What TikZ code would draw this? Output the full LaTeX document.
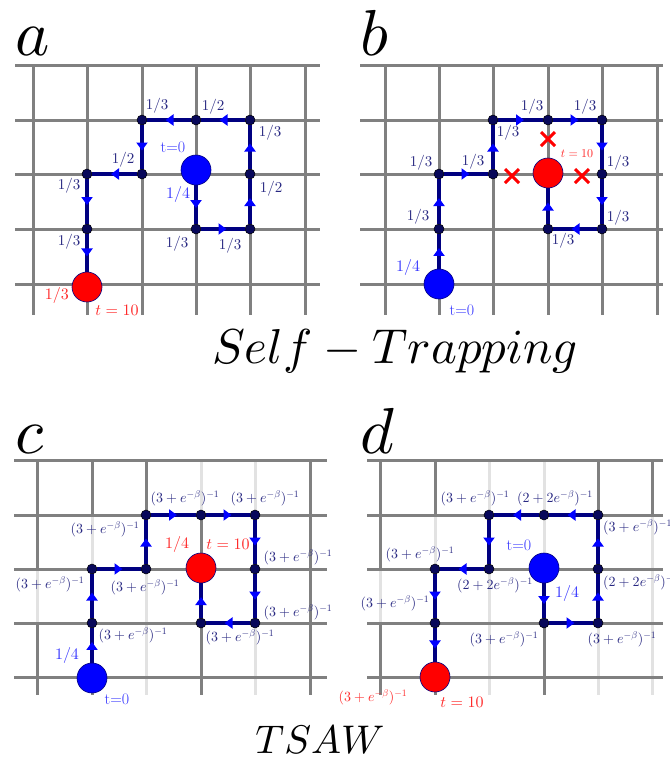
\documentclass[tikz,border=0pt]{standalone}
\usetikzlibrary{arrows.meta,decorations.markings}
\DeclareFontShape{OML}{cmm}{m}{it}{<->cmmi10}{}
\DeclareFontShape{OT1}{cmr}{m}{n}{<->cmr10}{}
\DeclareFontShape{OMS}{cmsy}{m}{n}{<->cmsy10}{}
\definecolor{gridgray}{RGB}{128,128,128}
\definecolor{gridlight}{RGB}{226,226,226}
\definecolor{pathnavy}{RGB}{0,0,128}
\definecolor{dotnavy}{RGB}{8,8,90}
\definecolor{arrowblue}{RGB}{0,0,255}
\definecolor{labnavy}{RGB}{40,40,130}
\definecolor{lblue}{RGB}{55,55,255}
\definecolor{redc}{RGB}{255,0,0}
\definecolor{redlab}{RGB}{255,40,40}
\tikzset{
  gridd/.style={draw=gridgray, line width=3pt},
  gridl/.style={draw=gridlight, line width=3pt},
  dot/.style={circle, fill=dotnavy, draw=black, line width=0.5pt, minimum size=10pt, inner sep=0pt},
  bigblue/.style={circle, fill=blue, draw=pathnavy, line width=0.6pt, minimum size=30pt, inner sep=0pt},
  bigred/.style={circle, fill=redc, draw=pathnavy, line width=0.6pt, minimum size=30pt, inner sep=0pt},
  walk/.style={draw=pathnavy, line width=3.5pt, postaction={decorate},
    decoration={markings, mark=at position 0.5 with {\arrow[arrowblue,xshift=3.5pt]{Triangle[width=11pt,length=8pt]}}}},
  lab/.style={text=labnavy, inner sep=0pt, font=\fontsize{15}{15}\selectfont},
  labs/.style={text=labnavy, inner sep=0pt, font=\fontsize{14}{14}\selectfont},
  labb/.style={text=lblue, inner sep=0pt, font=\fontsize{16}{16}\selectfont},
  labr/.style={text=redlab, inner sep=0pt, font=\fontsize{16}{16}\selectfont},
  title/.style={inner sep=0pt, anchor=base west, font=\fontsize{65}{65}\selectfont},
  cross/.style={draw=redc, line width=3pt},
}
\newcommand{\tq}{$(3+e^{-\beta})^{-1}$}
\newcommand{\tw}{$(2+2e^{-\beta})^{-1}$}
\begin{document}
\begin{tikzpicture}[x=1pt,y=-1pt]
\useasboundingbox (0,0) rectangle (670,764);
\fill[white] (0,0) rectangle (670,764);

% ---------- grids ----------
% panel a
\foreach \x in {33,87,142,196,250,305} \draw[gridd] (\x,65) -- (\x,315);
\foreach \y in {65,120,174,229,284} \draw[gridd] (15,\y) -- (320,\y);
% panel b
\foreach \x in {385,439,493,548,602,657} \draw[gridd] (\x,65) -- (\x,315);
\foreach \y in {65,120,174,229,284} \draw[gridd] (360,\y) -- (663,\y);
% panel c
\foreach \x in {37,92,146,201,255,310} \draw[gridd] (\x,460) -- (\x,695);
\draw[gridl] (37,569) -- (37,623);
\draw[gridl] (92,515) -- (92,569);
\draw[gridl] (146,569) -- (146,695);
\draw[gridl] (201,460) -- (201,515);
\draw[gridl] (255,460) -- (255,515);
\draw[gridl] (255,623) -- (255,695);
\foreach \y in {460,515,569,623,677} \draw[gridd] (14,\y) -- (327,\y);
% panel d
\foreach \x in {380,435,489,544,598,652} \draw[gridd] (\x,460) -- (\x,695);
\draw[gridl] (380,569) -- (380,623);
\draw[gridl] (435,515) -- (435,569);
\draw[gridl] (489,460) -- (489,515);
\draw[gridl] (489,569) -- (489,695);
\draw[gridl] (544,460) -- (544,569);
\draw[gridl] (598,623) -- (598,695);
\draw[gridl] (652,515) -- (652,695);
\foreach \y in {460,515,569,623,677} \draw[gridd] (367,\y) -- (663,\y);

% ---------- titles ----------
\node[title] (ta) at (15,55) {$a$};
\node[title] (tb) at (360,55) {$b$};
\node[title] (tc) at (15,453) {$c$};
\node[title] (td) at (360,453) {$d$};
\node[inner sep=0pt, anchor=base, font=\fontsize{49}{49}\selectfont] (st) at (395,363) {$Self-Trapping$};
\node[inner sep=0pt, anchor=base, font=\fontsize{40}{40}\selectfont] (tsaw) at (320,753) {$TSAW$};

% ---------- panel a ----------
\node[bigblue] (A0) at (196,170) {};
\node[dot] (a1) at (196,229) {};
\node[dot] (a2) at (250,229) {};
\node[dot] (a3) at (250,174) {};
\node[dot] (a4) at (250,120) {};
\node[dot] (a5) at (196,120) {};
\node[dot] (a6) at (142,120) {};
\node[dot] (a7) at (142,174) {};
\node[dot] (a8) at (87,174) {};
\node[dot] (a9) at (87,229) {};
\node[bigred] (A10) at (87,287) {};
\draw[walk] (A0) -- (a1);
\draw[walk] (a1) -- (a2);
\draw[walk] (a2) -- (a3);
\draw[walk] (a3) -- (a4);
\draw[walk] (a4) -- (a5);
\draw[walk] (a5) -- (a6);
\draw[walk] (a6) -- (a7);
\draw[walk] (a7) -- (a8);
\draw[walk] (a8) -- (a9);
\draw[walk] (a9) -- (A10);
\node[labb] (la0) at (173,147) {t=0};
\node[labb] (la1) at (178,194) {$1/4$};
\node[lab] (la2) at (177,244) {$1/3$};
\node[lab] (la3) at (230,246) {$1/3$};
\node[lab] (la4) at (271,189) {$1/2$};
\node[lab] (la5) at (270,133) {$1/3$};
\node[lab] (la6) at (213,107) {$1/2$};
\node[lab] (la7) at (157,106) {$1/3$};
\node[lab] (la8) at (123,160) {$1/2$};
\node[lab] (la9) at (69,186) {$1/3$};
\node[lab] (la10) at (69,242) {$1/3$};
\node[labr] (la11) at (57,295) {$1/3$};
\node[labr] (la12) at (117,310) {$t=10$};

% ---------- panel b ----------
\node[bigblue] (B0) at (439,284) {};
\node[dot] (b1) at (439,229) {};
\node[dot] (b2) at (439,174) {};
\node[dot] (b3) at (493,174) {};
\node[dot] (b4) at (493,120) {};
\node[dot] (b5) at (548,120) {};
\node[dot] (b6) at (602,120) {};
\node[dot] (b7) at (602,174) {};
\node[dot] (b8) at (602,229) {};
\node[dot] (b9) at (548,229) {};
\node[bigred] (B10) at (548,173) {};
\draw[walk] (B0) -- (b1);
\draw[walk] (b1) -- (b2);
\draw[walk] (b2) -- (b3);
\draw[walk] (b3) -- (b4);
\draw[walk] (b4) -- (b5);
\draw[walk] (b5) -- (b6);
\draw[walk] (b6) -- (b7);
\draw[walk] (b7) -- (b8);
\draw[walk] (b8) -- (b9);
\draw[walk] (b9) -- (B10);
\foreach \cx/\cy in {548/139, 512/176, 582/176}
  \draw[cross] (\cx-7,\cy-7) -- (\cx+7,\cy+7) (\cx-7,\cy+7) -- (\cx+7,\cy-7);
\node[labb] (lb0) at (408,267) {$1/4$};
\node[labb] (lb1) at (462,310) {t=0};
\node[lab] (lb2) at (418,217) {$1/3$};
\node[lab] (lb3) at (421,163) {$1/3$};
\node[lab] (lb4) at (473,162) {$1/3$};
\node[lab] (lb5) at (508,133) {$1/3$};
\node[lab] (lb6) at (532,107) {$1/3$};
\node[lab] (lb7) at (585,107) {$1/3$};
\node[lab] (lb8) at (618,163) {$1/3$};
\node[lab] (lb9) at (618,218) {$1/3$};
\node[lab] (lb10) at (563,241) {$1/3$};
\node[labr, font=\fontsize{12}{12}\selectfont] (lb11) at (577,154) {$t=10$};

% ---------- panel c ----------
\node[bigblue] (C0) at (92,678) {};
\node[dot] (c1) at (92,623) {};
\node[dot] (c2) at (92,569) {};
\node[dot] (c3) at (146,569) {};
\node[dot] (c4) at (146,515) {};
\node[dot] (c5) at (201,515) {};
\node[dot] (c6) at (255,515) {};
\node[dot] (c7) at (255,569) {};
\node[dot] (c8) at (255,623) {};
\node[dot] (c9) at (201,623) {};
\node[bigred] (C10) at (201,568) {};
\draw[walk] (C0) -- (c1);
\draw[walk] (c1) -- (c2);
\draw[walk] (c2) -- (c3);
\draw[walk] (c3) -- (c4);
\draw[walk] (c4) -- (c5);
\draw[walk] (c5) -- (c6);
\draw[walk] (c6) -- (c7);
\draw[walk] (c7) -- (c8);
\draw[walk] (c8) -- (c9);
\draw[walk] (c9) -- (C10);
\node[labb] (lc0) at (67,655) {$1/4$};
\node[labb] (lc1) at (117,699) {t=0};
\node[labr] (lc2) at (177,544) {$1/4$};
\node[labr] (lc3) at (228,544) {$t=10$};
\node[labs] (lc4) at (133,635) {\tq};
\node[labs] (lc5) at (50,584) {\tq};
\node[labs] (lc6) at (145,587) {\tq};
\node[labs] (lc7) at (105,529) {\tq};
\node[labs] (lc8) at (185,498) {\tq};
\node[labs] (lc9) at (265,498) {\tq};
\node[labs] (lc10) at (298,557) {\tq};
\node[labs] (lc11) at (298,612) {\tq};
\node[labs] (lc12) at (240,637) {\tq};

% ---------- panel d ----------
\node[labr, font=\fontsize{14}{14}\selectfont] (ld11) at (373,697) {\tq};
\node[bigblue] (D0) at (544,568) {};
\node[dot] (d1) at (544,623) {};
\node[dot] (d2) at (598,623) {};
\node[dot] (d3) at (598,569) {};
\node[dot] (d4) at (598,515) {};
\node[dot] (d5) at (544,515) {};
\node[dot] (d6) at (489,515) {};
\node[dot] (d7) at (489,569) {};
\node[dot] (d8) at (435,569) {};
\node[dot] (d9) at (435,623) {};
\node[bigred] (D10) at (435,677) {};
\draw[walk] (D0) -- (d1);
\draw[walk] (d1) -- (d2);
\draw[walk] (d2) -- (d3);
\draw[walk] (d3) -- (d4);
\draw[walk] (d4) -- (d5);
\draw[walk] (d5) -- (d6);
\draw[walk] (d6) -- (d7);
\draw[walk] (d7) -- (d8);
\draw[walk] (d8) -- (d9);
\draw[walk] (d9) -- (D10);
\node[labb] (ld0) at (519,545) {t=0};
\node[labb] (ld1) at (567,593) {$1/4$};
\node[labs] (ld2) at (504,639) {\tq};
\node[labs] (ld3) at (622,639) {\tq};
\node[labs, anchor=west] (ld4) at (603,582) {\tw};
\node[labs, anchor=west] (ld5) at (603,527) {\tq};
\node[labs] (ld6) at (555,498) {\tw};
\node[labs] (ld7) at (475,498) {\tq};
\node[labs] (ld8) at (495,585) {\tw};
\node[labs] (ld9) at (420,554) {\tq};
\node[labs] (ld10) at (395,603) {\tq};
\node[labr] (ld12) at (462,702) {$t=10$};
\end{tikzpicture}
\end{document}
